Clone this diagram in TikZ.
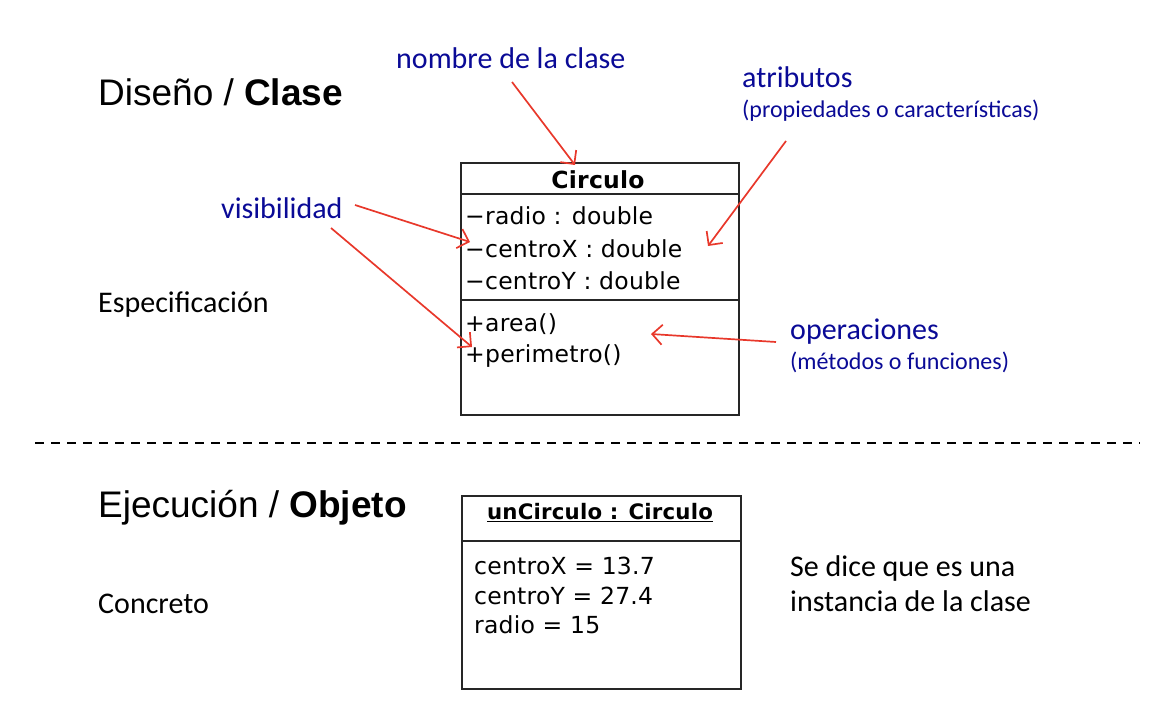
\documentclass[tikz,border=0pt]{standalone}
\usepackage{fontspec}
\setmainfont{Carlito}
\newfontfamily\headfont{Liberation Sans}
\newfontfamily\umlfont[LetterSpace=1]{DejaVu Sans}
\usetikzlibrary{arrows.meta}
\definecolor{lblue}{RGB}{10,10,150}
\definecolor{ared}{RGB}{232,56,43}
\tikzset{
  note/.style={text=lblue, font=\fontsize{30}{34}\selectfont, inner sep=0pt, anchor=base west},
  subnote/.style={text=lblue, font=\fontsize{24}{28}\selectfont, inner sep=0pt, anchor=base west},
  plain/.style={font=\fontsize{30}{34}\selectfont, inner sep=0pt, anchor=base west},
  head/.style={font=\headfont\fontsize{37}{42}\selectfont, inner sep=0pt, anchor=base west},
  uml/.style={font=\umlfont\fontsize{23.5}{28}\selectfont, inner sep=0pt, anchor=base west},
  umltitle/.style={font=\umlfont\bfseries\fontsize{23.5}{28}\selectfont, inner sep=0pt, anchor=base},
  objtitle/.style={font=\umlfont\bfseries\fontsize{21.3}{26}\selectfont, inner sep=0pt, anchor=base},
  umlbox/.style={draw=black!85, line width=1.9pt},
  umlline/.style={draw=black!85, line width=1.6pt},
  callout/.style={draw=ared, line width=1.7pt, -{Straight Barb[length=10pt,width=20pt,line width=1.7pt]}},
}
\begin{document}
\begin{tikzpicture}[x=1pt,y=-1pt]
\useasboundingbox (0,0) rectangle (1170,706);

% headings
\node[head] (dis) at (98,106) {Diseño / \textbf{Clase}};
\node[head] (eje) at (98,517) {Ejecución / \textbf{Objeto}};
\node[plain] (esp) at (98,312) {Especificación};
\node[plain] (con) at (98,613) {Concreto};
\node[plain] (se1) at (790,576) {Se dice que es una};
\node[plain] (se2) at (790,611) {instancia de la clase};

% annotations
\node[note] (nom) at (396,69) {nombre de la clase};
\node[note] (atr) at (742,88) {atributos};
\node[subnote] (atr2) at (742,118) {(propiedades o características)};
\node[note] (vis) at (221,218) {visibilidad};
\node[note] (ope) at (790,339) {operaciones};
\node[subnote] (ope2) at (790,369) {(métodos o funciones)};

% class box
\node[umlbox, minimum width=278pt, minimum height=252pt, inner sep=0pt, anchor=north west] (cls) at (460,162) {};
\coordinate (c1l) at (460,194); \coordinate (c1r) at (738,194);
\coordinate (c2l) at (460,300); \coordinate (c2r) at (738,300);
\draw[umlline] (c1l) -- (c1r);
\draw[umlline] (c2l) -- (c2r);
\node[umltitle] (cname) at (598,188) {Circulo};
\node[uml] (a1) at (465,224) {−radio : double};
\node[uml] (a2) at (465,257) {−centroX : double};
\node[uml] (a3) at (465,289) {−centroY : double};
\node[uml] (m1) at (465,331) {+area()};
\node[uml] (m2) at (465,362) {+perimetro()};

% object box
\node[umlbox, minimum width=279pt, minimum height=193pt, inner sep=0pt, anchor=north west] (obj) at (461,495) {};
\coordinate (o1l) at (461,541); \coordinate (o1r) at (740,541);
\draw[umlline] (o1l) -- (o1r);
\node[objtitle] (oname) at (600,519) {\underline{unCirculo : Circulo}};
\node[uml] (v1) at (474,574) {centroX = 13.7};
\node[uml] (v2) at (474,604) {centroY = 27.4};
\node[uml] (v3) at (474,633) {radio = 15};

% dashed separator
\coordinate (dl) at (35,443); \coordinate (dr) at (1140,443);
\draw[line width=1.3pt, dash pattern=on 9pt off 7pt] (dl) -- (dr);

% callout arrows
\coordinate (nomS) at (512,82); \coordinate (nomE) at (575,165);
\coordinate (atrS) at (786,141); \coordinate (atrE) at (708,246);
\coordinate (visS1) at (355,205); \coordinate (visE1) at (470,242);
\coordinate (visS2) at (331,228); \coordinate (visE2) at (472,347);
\coordinate (opeS) at (776,342); \coordinate (opeE) at (651,334);
\draw[callout] (nomS) -- (nomE);
\draw[callout] (atrS) -- (atrE);
\draw[callout] (visS1) -- (visE1);
\draw[callout] (visS2) -- (visE2);
\draw[callout] (opeS) -- (opeE);
\end{tikzpicture}
\end{document}
